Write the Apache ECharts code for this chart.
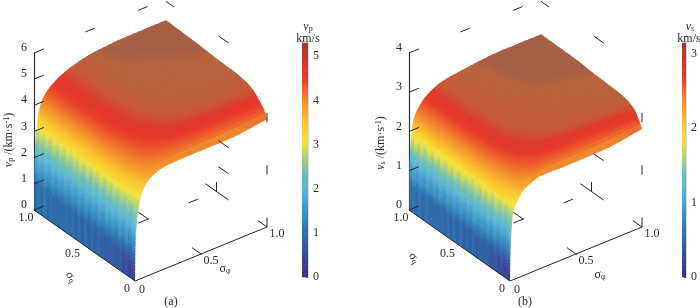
<!DOCTYPE html>
<html><head><meta charset="utf-8">
<style>html,body{margin:0;padding:0;background:#fff}#c{width:700px;height:308px;overflow:hidden}</style>
<script src="https://cdn.jsdelivr.net/npm/echarts@6/dist/echarts.min.js"></script>
</head><body><div id="c"></div>
<script>
// sampled positions on each horizontal axis
const sigmaPhi = [0,.001,.003,.008,.015,.025,.045,.07,.12,.25,.45,.7,1];
const sigmaQ = [0,.02,.07,.135,.2,.34,.5,.66,1];
// vp (km/s): one row per sigmaQ, one column per sigmaPhi
const vpRows = [
 [0,.3,1.2,1.85,2.3,2.66,3.15,3.45,3.72,3.93,3.95,3.95,4.12],
 [0,.4,1.3,2.0,2.45,2.8,3.3,3.6,3.9,4.1,4.2,4.22,4.35],
 [0,.55,1.4,2.13,2.6,2.95,3.45,3.75,4.05,4.33,4.5,4.55,4.6],
 [0,.7,1.5,2.25,2.72,3.1,3.6,3.9,4.2,4.52,4.75,4.82,4.86],
 [0,.78,1.53,2.3,2.78,3.17,3.7,3.98,4.28,4.64,4.88,4.95,4.98],
 [0,.88,1.57,2.36,2.85,3.25,3.79,4.08,4.38,4.76,5.0,5.03,5.06],
 [0,.95,1.59,2.39,2.88,3.28,3.83,4.13,4.43,4.8,5.03,5.05,5.08],
 [0,1.0,1.6,2.4,2.9,3.3,3.85,4.15,4.45,4.83,5.05,5.08,5.13],
 [0,1.05,1.6,2.4,2.9,3.3,3.85,4.15,4.45,4.83,5.09,5.18,5.19]
];
// vs (km/s)
const vsRows = [
 [0,.18,.72,1.12,1.42,1.72,1.9,2.05,2.22,2.36,2.35,2.36,2.5],
 [0,.24,.78,1.2,1.52,1.8,2.0,2.16,2.34,2.48,2.5,2.52,2.62],
 [0,.33,.84,1.28,1.62,1.9,2.1,2.26,2.46,2.64,2.72,2.76,2.84],
 [0,.42,.89,1.35,1.7,1.98,2.2,2.35,2.55,2.75,2.88,2.93,2.96],
 [0,.47,.91,1.38,1.74,2.02,2.25,2.4,2.6,2.82,2.94,2.97,3.0],
 [0,.53,.93,1.41,1.78,2.06,2.31,2.46,2.66,2.9,2.97,3.0,3.03],
 [0,.57,.94,1.42,1.8,2.08,2.34,2.49,2.69,2.92,2.98,3.03,3.05],
 [0,.6,.95,1.43,1.81,2.09,2.35,2.5,2.7,2.93,3.0,3.07,3.09],
 [0,.63,.95,1.43,1.81,2.1,2.36,2.5,2.7,2.93,3.03,3.1,3.1]
];
const horizTickValues = [0,.5,1];
const horizTickLabels = ['0','0.5','1.0'];
const vpAxisTicks = [0,1,2,3,4,5,6];
const vsAxisTicks = [0,1,2,3,4];
const vpBarTicks = [0,1,2,3,4,5];
const vsBarTicks = [0,1,2,3];

const SERIF = '"Liberation Serif","Times New Roman",serif';
const INK = '#2a2a2a';
// colour ramps: value as a fraction of the colour-bar top
const surfaceStops = [[0,'#3d2f80'],[.094,'#3a4b9b'],[.19,'#2b71ae'],[.28,'#3b94c8'],[.38,'#5ab5d6'],[.45,'#6fc0ae'],[.51,'#aad07a'],[.58,'#f5e23a'],[.66,'#fbc42e'],[.75,'#f28f2c'],[.85,'#e93a2b'],[.885,'#e03a2b'],[.92,'#c85a36'],[.958,'#b5643f'],[.966,'#a65f45'],[1,'#a65f45']];
const barStops = [[0,'#3d2f80'],[.094,'#3a4b9b'],[.19,'#2b71ae'],[.28,'#3b94c8'],[.38,'#5ab5d6'],[.45,'#6fc0ae'],[.51,'#aad07a'],[.58,'#f5e23a'],[.66,'#fbc42e'],[.75,'#f28f2c'],[.85,'#e93d2b'],[.94,'#c8342c'],[1,'#8f3c33']];
function hex(c){return [1,3,5].map(i=>parseInt(c.substr(i,2),16));}
function ramp(stops,f){
  f=Math.max(0,Math.min(1,f));
  for(let i=1;i<stops.length;i++){
    if(f<=stops[i][0]){
      const a=stops[i-1],b=stops[i],u=(f-a[0])/Math.max(1e-6,b[0]-a[0]);
      const x=hex(a[1]),y=hex(b[1]);
      return 'rgb('+x.map((v,k)=>Math.round(v+(y[k]-v)*u)).join(',')+')';
    }
  }
  return stops[stops.length-1][1];
}
const BANDS=62;
function bandColor(stops,f){return ramp(stops,(Math.floor(Math.max(0,f)*BANDS)+.5)/BANDS);}

// monotone cubic drawing curve through the table values
function mono(xs,ys){
  const n=xs.length,d=[],m=[];
  for(let i=0;i<n-1;i++)d.push((ys[i+1]-ys[i])/(xs[i+1]-xs[i]));
  m[0]=d[0];m[n-1]=d[n-2];
  for(let i=1;i<n-1;i++){
    if(d[i-1]*d[i]<=0)m[i]=0;
    else{const h0=xs[i]-xs[i-1],h1=xs[i+1]-xs[i],w1=2*h1+h0,w2=h1+2*h0;m[i]=(w1+w2)/(w1/d[i-1]+w2/d[i]);}
  }
  return x=>{
    let i=0;while(i<n-2&&x>xs[i+1])i++;
    const h=xs[i+1]-xs[i],s=(x-xs[i])/h,s2=s*s,s3=s2*s;
    return (2*s3-3*s2+1)*ys[i]+(s3-2*s2+s)*h*m[i]+(-2*s3+3*s2)*ys[i+1]+(s3-s2)*h*m[i+1];
  };
}
const T_STEPS=7,Q_STRIPS=84,STRIPE_T=.02,STRIPE_COLS=30;
function buildMesh(rows){
  const ts=[];
  for(let i=0;i<sigmaPhi.length-1;i++){
    const steps=i===0?1:T_STEPS;
    for(let k=0;k<steps;k++)ts.push(sigmaPhi[i]+(sigmaPhi[i+1]-sigmaPhi[i])*k/steps);
  }
  ts.push(1);
  const qs=[];for(let k=0;k<=Q_STRIPS;k++)qs.push(k/Q_STRIPS);
  const rowCurves=rows.map(r=>mono(sigmaPhi,r));
  const z=ts.map(t=>{
    const c=mono(sigmaQ,rowCurves.map(f=>f(t)));
    return qs.map(c);
  });
  return {ts,qs,z};
}

// shared oblique view
const VIEW={phiX:132,phiY:54,qX:101,qY:71,boxW:233,boxH:157};
const panels=[
 {rows:vpRows,zMax:6,zTicks:vpAxisTicks,colorTop:5.3,barTop:5.3,barTicks:vpBarTicks,left:34,barLeft:302,backLevels:[1/6,1/3,1]},
 {rows:vsRows,zMax:4,zTicks:vsAxisTicks,colorTop:3.17,barTop:3.14,barTicks:vsBarTicks,left:409,barLeft:682,backLevels:[.25,1]}
];
function project(p,t,q,z){
  return [(VIEW.phiX*t+VIEW.qX*(1-q))/VIEW.boxW, z+(VIEW.phiY*t+VIEW.qY*q-VIEW.qY)*p.zMax/VIEW.boxH];
}
const commonTicks=[[.39,1,1,.07,0,0],[.79,1,1,.07,0,0],[1,1,.985,0,-.08,0],[1,.61,0,0,-.23,0],[1,.5,0,0,0,.06],
 [1,.09,0,0,-.09,0],[.5,.09,0,0,-.1,0],[.79,.5,0,.07,0,0],[.025,0,.43,0,-.1,0],[.025,0,.36,.08,0,0],
 [1,0,0,0,0,.06],[1,0,1/3,0,0,.06],[1,0,2/3,0,0,.06]];

function surfaceSeries(p,idx){
  const mesh=buildMesh(p.rows);
  const strips=[];
  for(let j=Q_STRIPS-1;j>=0;j--)strips.push([j]);
  const lastA=mesh.ts.length-1;
  return {type:'custom',xAxisIndex:idx,yAxisIndex:idx,clip:false,silent:true,animation:false,z:2,data:strips,
    renderItem(params,api){
      const j=api.value(0),children=[],Z=mesh.z;
      const qm=(mesh.qs[j]+mesh.qs[j+1])/2,odd=Math.floor(qm*STRIPE_COLS)%2===1;
      const pt=(a,b)=>api.coord(project(p,mesh.ts[a],mesh.qs[b],Z[a][b]));
      const past=(c,n,k)=>[c[0]+(n[0]-c[0])*k,c[1]+(n[1]-c[1])*k];
      for(let a=lastA-1;a>=0;a--){
        let v=(Z[a][j]+Z[a+1][j]+Z[a][j+1]+Z[a+1][j+1])/4;
        if(a===0)v=(Z[1][j]+Z[1][j+1])/2;
        let f=v/p.colorTop;
        const wall=mesh.ts[a]<STRIPE_T;
        if(odd&&wall)f-=.025;
        const col=wall?bandColor(surfaceStops,f):ramp(surfaceStops,f);
        // each quad reaches slightly under the quads drawn before it, so no seams show
        const kA=a+2<=lastA?(wall?.12:.4):0, kB=j+2<=Q_STRIPS?.5:0;
        const a1=a+1,b1=j+1;
        let P=pt(a,j),Q=pt(a1,j),R=pt(a1,b1),S=pt(a,b1);
        if(kA){Q=past(Q,pt(a+2,j),kA);R=past(R,pt(a+2,b1),kA);}
        if(kB){S=past(S,pt(a,j+2),kB);R=past(R,pt(a1,j+2),kB);}
        children.push({type:'polygon',shape:{points:[P,Q,R,S]},style:{fill:col}});
      }
      return {type:'group',children};
    }};
}
function lineSeries(p,idx){
  const segs=[[0,0,0,0,1,0],[0,0,0,1,0,0]];
  const ticks=commonTicks.concat(p.backLevels.map(f=>[1,.48,f,0,-.1,0]),p.zTicks.map(v=>[0,1,v/p.zMax,.075,0,0]));
  const data=segs.concat(ticks);
  return {type:'custom',xAxisIndex:idx,yAxisIndex:idx,clip:false,silent:true,animation:false,z:5,data,
    renderItem(params,api){
      const v=[0,1,2,3,4,5].map(k=>api.value(k));
      const a=api.coord(project(p,v[0],v[1],v[2]*p.zMax));
      const b=api.coord(project(p,v[0]+v[3],v[1]+v[4],(v[2]+v[5])*p.zMax));
      return {type:'line',shape:{x1:a[0],y1:a[1],x2:b[0],y2:b[1]},style:{stroke:'#262626',lineWidth:1}};
    }};
}
function horizLabelSeries(p,idx){
  const data=[];
  horizTickValues.forEach((v,k)=>{data.push([v,0,k,0]);data.push([0,v,k,1]);});
  return {type:'custom',xAxisIndex:idx,yAxisIndex:idx,clip:false,silent:true,animation:false,z:6,data,
    renderItem(params,api){
      const c=api.coord(project(p,api.value(0),api.value(1),0));
      const k=api.value(2),isQ=api.value(3)===1;
      const dx=isQ?(k===1?-12:-8):(k===0?7:10),dy=isQ?8:(k===0?9:7);
      return {type:'text',style:{x:c[0]+dx,y:c[1]+dy,text:horizTickLabels[k],fill:INK,font:'12px '+SERIF,textAlign:'center',textVerticalAlign:'middle'}};
    }};
}
function barSeries(p,idx){
  const data=[];
  for(let b=0;b<BANDS;b++)data.push([b]);
  return {type:'custom',xAxisIndex:idx,yAxisIndex:idx,silent:true,animation:false,z:2,data,
    renderItem(params,api){
      const b=api.value(0),v0=b/BANDS*p.barTop,v1=(b+1)/BANDS*p.barTop;
      const a=api.coord([0,v0]),c=api.coord([1,v1]);
      return {type:'rect',shape:{x:a[0],y:c[1]-.3,width:c[0]-a[0],height:a[1]-c[1]+.6},style:{fill:ramp(barStops,(b+.5)/BANDS)}};
    }};
}
const grids=[],xAxes=[],yAxes=[],series=[];
panels.forEach((p,n)=>{
  grids.push({left:p.left,top:53,width:VIEW.boxW,height:VIEW.boxH});
  xAxes.push({type:'value',gridIndex:n,min:0,max:1,show:false});
  yAxes.push({type:'value',gridIndex:n,min:0,max:p.zMax,interval:1,position:'left',splitLine:{show:false},
    axisLine:{show:true,onZero:false,lineStyle:{color:'#333',width:1.2}},axisTick:{show:false},
    axisLabel:{color:INK,fontFamily:SERIF,fontSize:12,margin:7,verticalAlign:'bottom',lineHeight:10}});
  series.push(surfaceSeries(p,n),lineSeries(p,n),horizLabelSeries(p,n));
});
panels.forEach((p,n)=>{
  const g=n+2;
  grids.push({left:p.barLeft,top:43,width:6,height:234});
  xAxes.push({type:'value',gridIndex:g,min:0,max:1,show:false});
  yAxes.push({type:'value',gridIndex:g,min:0,max:p.barTop,position:'right',splitLine:{show:false},
    axisLine:{show:true,onZero:false,lineStyle:{color:'#c9ced6',width:1.5}},
    axisTick:{show:true,inside:true,length:2,customValues:p.barTicks,lineStyle:{color:'#555',width:1}},
    axisLabel:{color:INK,fontFamily:SERIF,fontSize:12,margin:5,customValues:p.barTicks}});
  series.push(barSeries(p,g));
});
const rich={
  i:{fontFamily:SERIF,fontSize:12,fontStyle:'italic',fill:INK,color:INK},
  n:{fontFamily:SERIF,fontSize:12,fill:INK,color:INK},
  s:{fontFamily:SERIF,fontSize:8,fill:INK,color:INK,verticalAlign:'bottom'},
  u:{fontFamily:SERIF,fontSize:8,fill:INK,color:INK,verticalAlign:'top'}
};
function txt(x,y,text,rot){
  return {type:'text',x,y,rotation:rot||0,z:10,silent:true,style:{text,rich,fill:INK,font:'12px '+SERIF,align:'center',verticalAlign:'middle'}};
}
const graphics=[
  txt(9,140,'{i|v}{s|p} {n|/(km·s}{u|-1}{n|)}',Math.PI/2),
  txt(381,143,'{i|v}{s|s} {n|/(km·s}{u|-1}{n|)}',Math.PI/2),
  txt(225,269,'{n|σ}{s|φ}'),
  txt(600,275,'{n|σ}{s|φ}'),
  txt(71,277,'{n|σ}{s|q}',-1),
  txt(414,258,'{n|σ}{s|q}',-1),
  txt(171,302,'{n|(a)}'),
  txt(525,302,'{n|(b)}'),
  txt(308,27,'{i|v}{s|p}'),
  txt(308,39,'{n|km/s}'),
  txt(690,27,'{i|v}{s|s}'),
  txt(689,39,'{n|km/s}')
];
const chart=echarts.init(document.getElementById('c'),null,{renderer:'canvas'});
chart.setOption({animation:false,backgroundColor:'#fff',grid:grids,xAxis:xAxes,yAxis:yAxes,series,graphic:{elements:graphics}});
</script></body></html>
